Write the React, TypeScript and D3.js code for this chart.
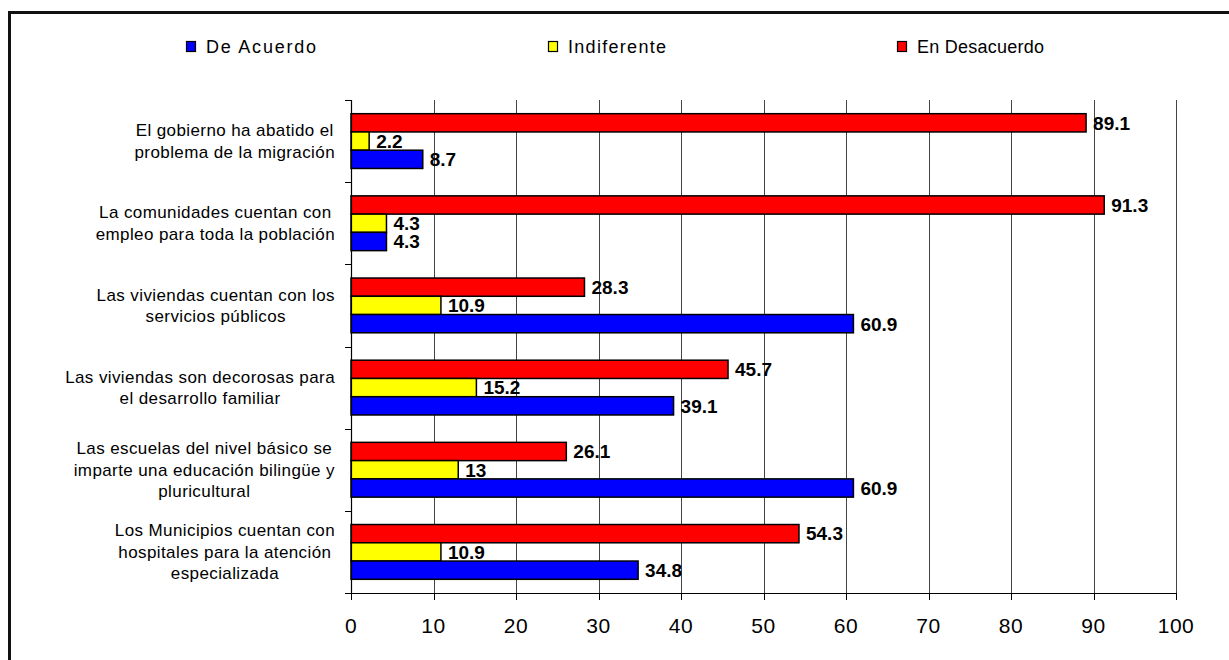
import React, { useEffect, useRef } from "react";
import * as d3 from "d3";

const categories: string[][] = [
  ["El gobierno ha abatido el", "problema de la migración"],
  ["La comunidades cuentan con", "empleo para toda la población"],
  ["Las viviendas cuentan con los", "servicios públicos"],
  ["Las viviendas son decorosas para", "el desarrollo familiar"],
  ["Las escuelas del nivel básico se", "imparte una educación bilingüe y", "pluricultural"],
  ["Los Municipios cuentan con", "hospitales para la atención", "especializada"],
];
const deAcuerdo = [8.7, 4.3, 60.9, 39.1, 60.9, 34.8];
const indiferente = [2.2, 4.3, 10.9, 15.2, 13, 10.9];
const enDesacuerdo = [89.1, 91.3, 28.3, 45.7, 26.1, 54.3];
const seriesNames = ["De Acuerdo", "Indiferente", "En Desacuerdo"];
const seriesColors = ["#0000FF", "#FFFF00", "#FF0000"];
const xTicks = [0, 10, 20, 30, 40, 50, 60, 70, 80, 90, 100];

const W = 1229;
const H = 660;
const FONT = "'Liberation Sans', Arial, Helvetica, sans-serif";

export default function App() {
  const ref = useRef<SVGSVGElement>(null);

  useEffect(() => {
    const svg = d3.select(ref.current);
    svg.selectAll("*").remove();

    const left = 351, right = 1176, top = 100, bottom = 593;
    const x = d3.scaleLinear().domain([0, 100]).range([left, right]);
    const keys = categories.map((_, i) => String(i));
    const y = d3.scaleBand().domain(keys).range([top, bottom]).padding(0);
    const seriesOrder = [2, 1, 0]; // top to bottom: En Desacuerdo, Indiferente, De Acuerdo
    const ySub = d3
      .scaleBand()
      .domain(seriesOrder.map(String))
      .range([0, y.bandwidth()])
      .paddingInner(0)
      .paddingOuter(0.75);
    const values = [deAcuerdo, indiferente, enDesacuerdo];

    svg.append("rect").attr("x", 0).attr("y", 0).attr("width", W).attr("height", H).attr("fill", "#fff");

    svg
      .append("rect")
      .attr("x", 9.5)
      .attr("y", 12.5)
      .attr("width", 1300)
      .attr("height", 800)
      .attr("fill", "none")
      .attr("stroke", "#111")
      .attr("stroke-width", 3);

    svg
      .append("g")
      .selectAll("line")
      .data(xTicks.slice(1))
      .join("line")
      .attr("x1", (d) => Math.round(x(d)) + 0.5)
      .attr("x2", (d) => Math.round(x(d)) + 0.5)
      .attr("y1", top)
      .attr("y2", bottom)
      .attr("stroke", "#444")
      .attr("stroke-width", 1);

    const legendX = [186, 548, 897];
    const legendW = [110, 98, 127];
    seriesNames.forEach((name, i) => {
      svg
        .append("rect")
        .attr("x", legendX[i] + 0.5)
        .attr("y", 41.5)
        .attr("width", 9)
        .attr("height", 10)
        .attr("fill", seriesColors[i])
        .attr("stroke", "#000")
        .attr("stroke-width", 1.2);
      svg
        .append("text")
        .attr("x", legendX[i] + 20)
        .attr("y", 53)
        .attr("font-family", FONT)
        .attr("font-size", 18)
        .attr("textLength", legendW[i])
        .attr("lengthAdjust", "spacing")
        .attr("fill", "#000")
        .text(name);
    });

    const barsG = svg.append("g");
    categories.forEach((_, ci) => {
      const y0 = y(String(ci))!;
      seriesOrder.forEach((si) => {
        const v = values[si][ci];
        const by = y0 + ySub(String(si))!;
        const bh = ySub.bandwidth();
        barsG
          .append("rect")
          .attr("x", x(0))
          .attr("y", by)
          .attr("width", x(v) - x(0))
          .attr("height", bh)
          .attr("fill", seriesColors[si])
          .attr("stroke", "#000")
          .attr("stroke-width", 1.5);
        barsG
          .append("text")
          .attr("x", x(v) + 7)
          .attr("y", by + bh / 2)
          .attr("dy", "0.36em")
          .attr("font-family", FONT)
          .attr("font-weight", "bold")
          .attr("font-size", 19)
          .attr("fill", "#000")
          .text(String(v));
      });
    });

    svg
      .append("line")
      .attr("x1", left + 0.5)
      .attr("x2", left + 0.5)
      .attr("y1", top)
      .attr("y2", bottom)
      .attr("stroke", "#000")
      .attr("stroke-width", 1.2);
    const yTickPos = keys.map((k) => y(k)!).concat([bottom]);
    svg
      .append("g")
      .selectAll("line")
      .data(yTickPos)
      .join("line")
      .attr("x1", left - 6)
      .attr("x2", left)
      .attr("y1", (d) => Math.round(d) + 0.5)
      .attr("y2", (d) => Math.round(d) + 0.5)
      .attr("stroke", "#000");

    svg
      .append("line")
      .attr("x1", left)
      .attr("x2", right)
      .attr("y1", bottom + 0.5)
      .attr("y2", bottom + 0.5)
      .attr("stroke", "#000")
      .attr("stroke-width", 1.2);
    svg
      .append("g")
      .selectAll("line")
      .data(xTicks)
      .join("line")
      .attr("x1", (d) => Math.round(x(d)) + 0.5)
      .attr("x2", (d) => Math.round(x(d)) + 0.5)
      .attr("y1", bottom)
      .attr("y2", bottom + 7)
      .attr("stroke", "#000");
    svg
      .append("g")
      .selectAll("text")
      .data(xTicks)
      .join("text")
      .attr("x", (d) => x(d))
      .attr("y", 633)
      .attr("text-anchor", "middle")
      .attr("font-family", FONT)
      .attr("font-size", 21)
      .attr("letter-spacing", 0.5)
      .attr("fill", "#000")
      .text((d) => String(d));

    const lineH = 21.5;
    categories.forEach((lines, ci) => {
      const cy = y(String(ci))! + y.bandwidth() / 2;
      const g = svg.append("g");
      const texts = lines.map((ln, li) =>
        g
          .append("text")
          .attr("y", cy + (li - (lines.length - 1) / 2) * lineH)
          .attr("dy", "0.35em")
          .attr("text-anchor", "middle")
          .attr("font-family", FONT)
          .attr("font-size", 17)
          .attr("letter-spacing", 0.4)
          .attr("fill", "#000")
          .text(ln)
      );
      const maxW = d3.max(texts, (t) => (t.node() as SVGTextElement).getComputedTextLength()) || 0;
      texts.forEach((t) => t.attr("x", 335 - maxW / 2));
    });
  }, []);

  return (
    <svg
      ref={ref}
      width={W}
      height={H}
      style={{ position: "absolute", left: 0, top: 0, display: "block" }}
    />
  );
}
